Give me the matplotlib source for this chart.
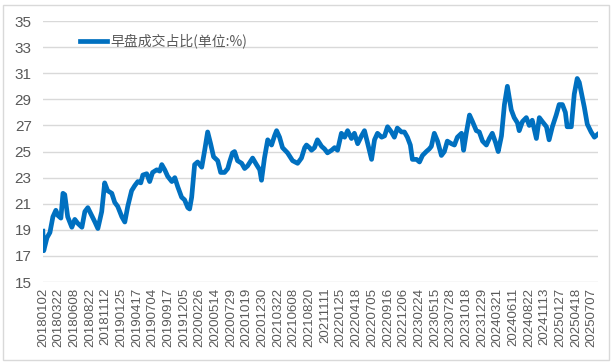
import matplotlib
matplotlib.use("Agg")
import matplotlib.pyplot as plt
from matplotlib.patches import Rectangle
import numpy as np

plt.rcParams['font.family'] = ['Liberation Sans', 'Noto Sans CJK SC', 'DejaVu Sans']

# trading-day index of each sample and the value in %
days = [0, 3, 14, 24, 34, 44, 51, 61, 68, 74, 84, 98, 108, 118, 132, 142, 152, 165, 176, 186,
        199, 209, 219, 233, 243, 253, 267, 277, 287, 300, 311, 321, 331, 338, 351, 361, 371, 385, 395, 402,
        412, 422, 436, 446, 456, 469, 479, 490, 496, 503, 513, 523, 537, 547, 557, 567, 577, 591, 601, 614,
        625, 631, 641, 648, 658, 672, 682, 692, 709, 722, 733, 739, 749, 760, 773, 783, 790, 800, 810, 827,
        844, 861, 874, 885, 891, 901, 908, 918, 928, 942, 952, 962, 976, 986, 996, 1009, 1020, 1030, 1043, 1053,
        1064, 1077, 1087, 1097, 1111, 1121, 1131, 1145, 1155, 1165, 1178, 1188, 1198, 1212, 1222, 1232, 1242, 1249, 1263, 1273,
        1283, 1296, 1306, 1313, 1323, 1334, 1347, 1357, 1367, 1381, 1391, 1401, 1415, 1422, 1431, 1442, 1452, 1465, 1475, 1486,
        1499, 1509, 1519, 1530, 1539, 1550, 1560, 1570, 1583, 1593, 1604, 1610, 1621, 1634, 1644, 1654, 1668, 1678, 1688, 1702,
        1711, 1722, 1735, 1745, 1756, 1766, 1772, 1786, 1796, 1806, 1813, 1820, 1830, 1840, 1853, 1864, 1874]
ratio = [18.9, 17.4, 18.4, 18.8, 20.0, 20.5, 20.1, 19.9, 21.8, 21.7, 20.0, 19.2, 19.8, 19.5, 19.2, 20.4, 20.7, 20.1, 19.6, 19.1,
         20.4, 22.6, 22.0, 21.8, 21.1, 20.8, 20.0, 19.6, 20.8, 22.0, 22.4, 22.7, 22.6, 23.2, 23.3, 22.7, 23.4, 23.6, 23.5, 24.0,
         23.6, 23.1, 22.7, 23.0, 22.3, 21.5, 21.3, 20.7, 20.6, 21.5, 24.0, 24.2, 23.8, 25.1, 26.5, 25.6, 24.6, 24.3, 23.4, 23.4,
         23.7, 24.2, 24.9, 25.0, 24.3, 24.1, 23.7, 23.9, 24.5, 24.0, 23.6, 22.8, 24.5, 25.9, 25.5, 26.2, 26.6, 26.1, 25.3, 24.9,
         24.3, 24.1, 24.5, 25.3, 25.5, 25.3, 25.1, 25.3, 25.9, 25.4, 25.2, 24.9, 25.1, 25.3, 25.1, 26.4, 26.1, 26.6, 26.0, 26.4,
         25.6, 26.2, 26.6, 25.7, 24.4, 25.9, 26.4, 26.1, 26.2, 26.9, 26.5, 26.1, 26.8, 26.5, 26.5, 26.1, 25.5, 24.4, 24.4, 24.2,
         24.7, 25.0, 25.2, 25.4, 26.4, 25.8, 24.7, 25.0, 25.8, 25.6, 25.5, 26.1, 26.4, 25.1, 26.4, 27.8, 27.3, 26.6, 26.5, 25.8,
         25.5, 26.0, 26.4, 25.7, 25.0, 26.2, 28.6, 30.0, 28.2, 27.6, 27.2, 26.6, 27.3, 27.6, 27.0, 27.4, 26.0, 27.6, 27.3, 26.9,
         25.9, 26.9, 27.8, 28.6, 28.6, 28.0, 26.9, 26.9, 29.4, 30.6, 30.3, 29.5, 28.4, 27.1, 26.5, 26.1, 26.3]

tick_labels = ['20180102', '20180322', '20180608', '20180822', '20181112', '20190125', '20190417', '20190704',
               '20190917', '20191205', '20200226', '20200514', '20200729', '20201019', '20201230', '20210322',
               '20210608', '20210820', '20211111', '20220125', '20220418', '20220705', '20220916', '20221206',
               '20230224', '20230515', '20230728', '20231018', '20231229', '20240321', '20240611', '20240822',
               '20241113', '20250127', '20250418', '20250707']
tick_step = 53

fig = plt.figure(figsize=(6.12, 3.63), dpi=100)
fig.patches.append(Rectangle((0.005, 0.008), 0.99, 0.978, transform=fig.transFigure,
                             fill=False, edgecolor='#d9d9d9', linewidth=1.0))
ax = fig.add_axes([0.070, 0.223, 0.907, 0.719])

ax.plot(days, ratio, color='#0070C0', linewidth=3.4, solid_joinstyle='round',
        label='早盘成交占比(单位:%)')

ax.set_ylim(15, 35)
ax.set_yticks(range(15, 36, 2))
ax.set_xlim(0, days[-1] + 2)
ax.set_xticks([i * tick_step for i in range(len(tick_labels))])
ax.set_xticklabels(tick_labels, rotation=90)
ax.tick_params(axis='both', length=0, colors='#595959')
ax.tick_params(axis='y', labelsize=11, pad=8)
ax.tick_params(axis='x', labelsize=9.5, pad=4)
ax.grid(axis='y', color='#d9d9d9', linewidth=1.0)
ax.set_axisbelow(True)
for s in ax.spines.values():
    s.set_visible(False)

leg = ax.legend(loc='upper left', bbox_to_anchor=(0.045, 1.0), frameon=False,
                handlelength=1.9, handletextpad=0.25,
                prop={'family': ['Noto Sans CJK SC', 'DejaVu Sans'], 'size': 10})
for t in leg.get_texts():
    t.set_color('#595959')

fig.savefig('out.png', dpi=100)
